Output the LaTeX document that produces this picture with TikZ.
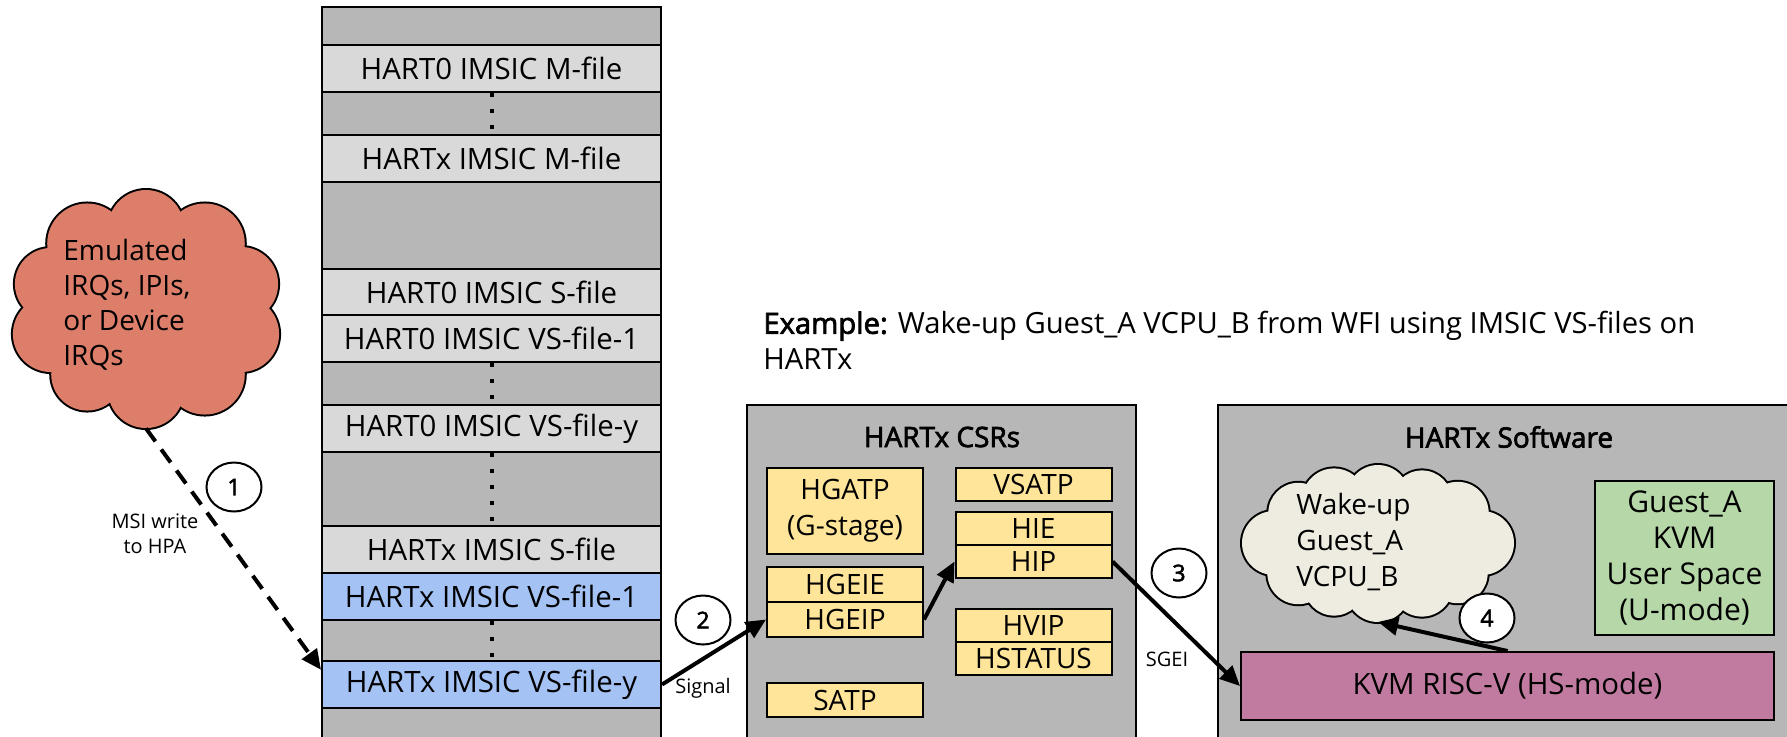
\documentclass[tikz,border=0pt]{standalone}
\usepackage{fontspec}
\setmainfont{Open Sans}[AutoFakeBold=2.5]
\usetikzlibrary{shapes.geometric,arrows.meta,calc}

\definecolor{memgray}{HTML}{B7B7B7}
\definecolor{rowgray}{HTML}{D9D9D9}
\definecolor{vsblue}{HTML}{A4C2F4}
\definecolor{irqred}{HTML}{DD7E6B}
\definecolor{csryellow}{HTML}{FFE599}
\definecolor{guestgreen}{HTML}{B6D7A8}
\definecolor{kvmpink}{HTML}{C27BA0}
\definecolor{wakebeige}{HTML}{EEECE1}

\newcommand\mainsz{\fontsize{14}{18}\selectfont}
\newcommand\rowsz{\fontsize{14.7}{18}\selectfont}
\newcommand\guestsz{\fontsize{15}{18}\selectfont}
\newcommand\cloudsz{\fontsize{14}{17.5}\selectfont}
\newcommand\capsz{\fontsize{14.6}{18}\selectfont}
\newcommand\labelsz{\fontsize{10}{12.5}\selectfont}
\newcommand\titlesz{\fontsize{14}{18}\selectfont\bfseries}
\newcommand\stepsz{\fontsize{11.5}{12}\selectfont\bfseries}

% Cloud: union of round puffs set on an ellipse. The puffs are first drawn
% with a doubled outline, then filled again so only the outer edge remains.
% #1 fill colour, #2 centre, #3/#4 radii of the ellipse, #5 list angle/puff radius
\newcommand\puffcloud[5]{%
  \foreach \a/\r in {#5}
    \draw[line width=2pt, fill=#1] ($(#2)+(\a:#3 and #4)$) circle[radius=\r];
  \fill[#1] (#2) ellipse[x radius=#3, y radius=#4];
  \foreach \a/\r in {#5}
    \fill[#1] ($(#2)+(\a:#3 and #4)$) circle[radius=\r];}

\begin{document}
\begin{tikzpicture}[x=0.5pt,y=-0.5pt,
  memrow/.style={draw, line width=1pt, fill=rowgray, minimum width=169.5pt,
    minimum height=23.5pt, inner sep=0pt, font=\rowsz},
  csrbox/.style={draw, line width=1pt, fill=csryellow, minimum width=78pt,
    inner sep=0pt, font=\mainsz},
  dotline/.style={line width=2pt, dash pattern=on 2pt off 6pt},
  flow/.style={line width=2pt, -{Triangle[length=10pt,width=9pt]}},
  stepmark/.style={ellipse, draw, line width=1pt, fill=white, minimum width=27.5pt,
    minimum height=24.5pt, inner sep=0pt, font=\stepsz},
  cloudarea/.style={ellipse, inner sep=0pt},
  edgelabel/.style={font=\labelsz, align=center, inner sep=0pt}]

\useasboundingbox (0,0) rectangle (1787,736);

% ---------- IMSIC interrupt files in the physical address space ----------
\draw[fill=memgray, line width=1pt] (322,7) rectangle (661,760);
\node[memrow] (m0)   at (491.5,68.5)  {HART0 IMSIC M-file};
\node[memrow] (mx)   at (491.5,158)   {HARTx IMSIC M-file};
\node[memrow] (s0)   at (491.5,292)   {HART0 IMSIC S-file};
\node[memrow] (vs0a) at (491.5,338.5) {HART0 IMSIC VS-file-1};
\node[memrow] (vs0y) at (491.5,428.5) {HART0 IMSIC VS-file-y};
\node[memrow] (sx)   at (491.5,549)   {HARTx IMSIC S-file};
\node[memrow, fill=vsblue] (vsxa) at (491.5,596.5) {HARTx IMSIC VS-file-1};
\node[memrow, fill=vsblue] (vsxy) at (491.5,684.5) {HARTx IMSIC VS-file-y};

\draw[dotline] (m0.south)   -- (mx.north);
\draw[dotline] (vs0a.south) -- (vs0y.north);
\draw[dotline] (vs0y.south) -- (sx.north);
\draw[dotline] (vsxa.south) -- (vsxy.north);

% ---------- interrupt source ----------
\node[cloudarea, minimum width=136.5pt, minimum height=119pt] (irq) at (146,309) {};
\puffcloud{irqred}{irq.center}{100}{81}
  {18/38,54/40,90/38,126/36,162/38,198/36,234/40,270/38,306/40,342/37}
\node[font=\cloudsz, align=left, anchor=west, inner sep=0pt] (irqtext) at (63,305)
  {Emulated\\IRQs, IPIs,\\or Device\\IRQs};

\draw[flow, dash pattern=on 8pt off 5pt] (irq.south) -- ($(vsxy.north west)!0.2!(vsxy.south west)$);
\node[stepmark] (n1) at (234,487) {1};
\node[edgelabel] (msi) at (155,534) {MSI write\\to HPA};

% ---------- HART CSRs ----------
\draw[fill=memgray, line width=1pt] (747,405) rectangle (1136,760);
\node[font=\titlesz] (csrtitle) at (942,437) {HARTx CSRs};
\node[csrbox, minimum height=43pt, align=center] (hgatp) at (845,511) {HGATP\\(G-stage)};
\node[csrbox, minimum height=17.5pt] (hgeie) at (845,584.5) {HGEIE};
\node[csrbox, minimum height=17.5pt] (hgeip) at (845,619.5) {HGEIP};
\node[csrbox, minimum height=17pt]   (satp)  at (845,700)   {SATP};
\node[csrbox, minimum height=16.5pt] (vsatp) at (1033.5,484.5) {VSATP};
\node[csrbox, minimum height=16.5pt] (hie)   at (1033.5,528.5) {HIE};
\node[csrbox, minimum height=16.5pt] (hip)   at (1033.5,561.5) {HIP};
\node[csrbox, minimum height=16.5pt] (hvip)  at (1033.5,625.5) {HVIP};
\node[csrbox, minimum height=16.5pt] (hstatus) at (1033.5,658.5) {HSTATUS};

% ---------- HART software ----------
\draw[fill=memgray, line width=1pt] (1218,405) rectangle (1800,760);
\node[font=\titlesz] (swtitle) at (1509,437) {HARTx Software};
\node[cloudarea, minimum width=136.5pt, minimum height=78.5pt] (wake) at (1378,543) {};
\puffcloud{wakebeige}{wake.center}{104}{47}
  {0/32,40/30,65/31,90/32,115/30,140/31,180/32,220/30,245/32,270/31,295/30,320/31}
\node[font=\mainsz, align=left, anchor=west, inner sep=0pt] (waketext) at (1296,542)
  {Wake-up\\Guest\_A\\VCPU\_B};
\node[draw, line width=1pt, fill=guestgreen, minimum width=89.5pt, minimum height=77pt,
  inner sep=0pt, align=center, font=\guestsz] (guest) at (1684.5,558)
  {Guest\_A\\KVM\\User Space\\(U-mode)};
\node[draw, line width=1pt, fill=kvmpink, minimum width=266.5pt, minimum height=34pt,
  inner sep=0pt, font=\rowsz] (kvm) at (1507.5,686) {KVM RISC-V (HS-mode)};

% ---------- caption ----------
\node[font=\capsz, align=left, anchor=north west, inner sep=0pt] (example) at (763,311)
  {\textbf{Example:} Wake-up Guest\_A VCPU\_B from WFI using IMSIC VS-files on\\HARTx};

% ---------- signal path ----------
\draw[flow] (vsxy.east) -- (hgeip.west);
\node[stepmark] (n2) at (703,620) {2};
\node[edgelabel] (signal) at (703,688) {Signal};

\draw[flow] (hgeip.east) -- (hip.west);

\draw[flow] (hip.east) -- (kvm.west);
\node[stepmark] (n3) at (1179,573) {3};
\node[edgelabel] (sgei) at (1167,659) {SGEI};

\draw[flow] (kvm.north) -- (wake.south);
\node[stepmark] (n4) at (1487,618) {4};
\end{tikzpicture}
\end{document}
